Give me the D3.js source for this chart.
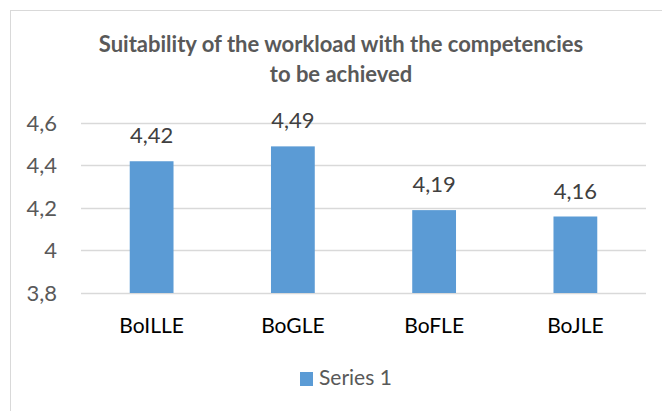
<!DOCTYPE html>
<html>
<head>
<meta charset="utf-8">
<script src="https://cdn.jsdelivr.net/npm/d3@7"></script>
<style>
  body { margin: 0; background: #fff; }
  text { font-family: Lato, "Open Sans", sans-serif; }
</style>
</head>
<body>
<div id="chart"></div>
<script>
// chart data
var categories = ["BoILLE", "BoGLE", "BoFLE", "BoJLE"];
var values = [4.42, 4.49, 4.19, 4.16];
var yTicks = [3.8, 4, 4.2, 4.4, 4.6];
var seriesName = "Series 1";
var titleLines = ["Suitability of the workload with the competencies", "to be achieved"];

var W = 662, H = 411;
var margin = { top: 123, right: 16, bottom: 118, left: 81 };
var width = W - margin.left - margin.right;
var height = H - margin.top - margin.bottom;

var fmt = function(v){ return String(v).replace(".", ","); };

var svg = d3.select("#chart").append("svg")
  .attr("width", W)
  .attr("height", H);

// chart area border
svg.append("rect")
  .attr("x", 10.5).attr("y", 10.5)
  .attr("width", W + 10).attr("height", H + 10)
  .attr("fill", "#fff")
  .attr("stroke", "#d9d9d9");

// title
svg.selectAll(".title")
  .data(titleLines)
  .enter().append("text")
  .attr("class", "title")
  .attr("x", 341)
  .attr("y", function(d, i){ return 52 + i * 30; })
  .attr("text-anchor", "middle")
  .attr("font-size", 22)
  .attr("font-weight", "bold")
  .attr("fill", "#595959")
  .text(function(d){ return d; });

var g = svg.append("g")
  .attr("transform", "translate(" + margin.left + "," + margin.top + ")");

var x = d3.scaleBand()
  .domain(categories)
  .range([0, width])
  .paddingInner(0.69)
  .paddingOuter(0.345);

var y = d3.scaleLinear()
  .domain([3.8, 4.6])
  .range([height, 0]);

// gridlines
g.selectAll(".grid")
  .data(yTicks)
  .enter().append("line")
  .attr("class", "grid")
  .attr("x1", 0).attr("x2", width)
  .attr("y1", function(d){ return Math.round(y(d)) + 0.5; })
  .attr("y2", function(d){ return Math.round(y(d)) + 0.5; })
  .attr("stroke", "#d9d9d9")
  .attr("stroke-width", 1.5);

// y axis labels
var yAxis = d3.axisLeft(y)
  .tickValues(yTicks)
  .tickSize(0)
  .tickPadding(24)
  .tickFormat(fmt);
g.append("g")
  .call(yAxis)
  .call(function(a){ a.select(".domain").remove(); })
  .selectAll("text")
  .attr("font-size", 22)
  .attr("fill", "#595959")
  .attr("dy", 7)
  .style("font-family", "Lato, sans-serif");

// bars
g.selectAll(".bar")
  .data(values)
  .enter().append("rect")
  .attr("class", "bar")
  .attr("x", function(d, i){ return x(categories[i]); })
  .attr("width", x.bandwidth())
  .attr("y", function(d){ return y(d); })
  .attr("height", function(d){ return height - y(d); })
  .attr("fill", "#5b9bd5");

// value labels
g.selectAll(".val")
  .data(values)
  .enter().append("text")
  .attr("class", "val")
  .attr("x", function(d, i){ return x(categories[i]) + x.bandwidth() / 2; })
  .attr("y", function(d){ return y(d) - 18; })
  .attr("text-anchor", "middle")
  .attr("font-size", 22)
  .attr("fill", "#404040")
  .text(fmt);

// x axis labels
var xAxis = d3.axisBottom(x).tickSize(0).tickPadding(25);
g.append("g")
  .attr("transform", "translate(0," + height + ")")
  .call(xAxis)
  .call(function(a){ a.select(".domain").remove(); })
  .selectAll("text")
  .attr("font-size", 21)
  .attr("fill", "#000")
  .attr("dy", 15)
  .style("font-family", "Lato, sans-serif");

// legend
var legend = svg.append("g").attr("transform", "translate(300,372)");
legend.append("rect")
  .attr("width", 13).attr("height", 14)
  .attr("fill", "#5b9bd5");
legend.append("text")
  .attr("x", 19).attr("y", 13)
  .attr("font-size", 21)
  .attr("fill", "#595959")
  .text(seriesName);
</script>
</body>
</html>
